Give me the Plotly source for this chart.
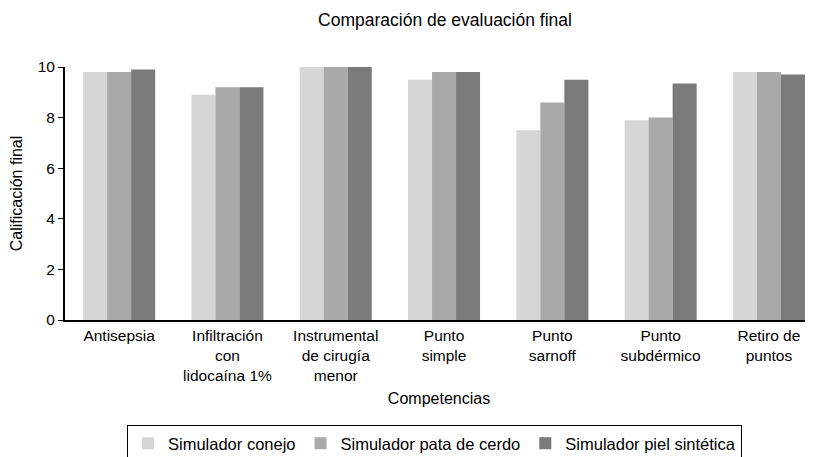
import plotly.graph_objects as go

categories = ["Antisepsia", "Infiltración<br>con<br>lidocaína 1%", "Instrumental<br>de cirugía<br>menor",
              "Punto<br>simple", "Punto<br>sarnoff", "Punto<br>subdérmico", "Retiro de<br>puntos"]
conejo = [9.8, 8.9, 10.0, 9.5, 7.5, 7.9, 9.8]
pata_cerdo = [9.8, 9.2, 10.0, 9.8, 8.6, 8.0, 9.8]
piel_sintetica = [9.9, 9.2, 10.0, 9.8, 9.5, 9.35, 9.7]
series_names = ["Simulador conejo", "Simulador pata de cerdo", "Simulador piel sintética"]
colors = ["#d6d6d6", "#a9a9a9", "#7a7a7a"]
y_ticks = [0, 2, 4, 6, 8, 10]

font = "Liberation Sans, Arial, sans-serif"
fig = go.Figure()
for name, vals, c in zip(series_names, [conejo, pata_cerdo, piel_sintetica], colors):
    fig.add_trace(go.Bar(x=list(range(len(categories))), y=vals, name=name,
                         marker=dict(color=c, line=dict(width=0))))

fig.update_layout(
    width=813, height=457,
    margin=dict(l=57, r=8, t=59, b=145, autoexpand=False),
    paper_bgcolor="white", plot_bgcolor="white",
    barmode="group", bargap=0.335, bargroupgap=0,
    font=dict(family=font, size=15.5, color="black"),
    title=dict(text="Comparación de evaluación final", x=0.5375, xanchor="center",
               y=0.974, yanchor="middle", font=dict(size=17.5)),
    xaxis=dict(tickmode="array", tickvals=list(range(len(categories))), ticktext=categories,
               range=[-0.5, 6.407], showline=True, linecolor="black", linewidth=2,
               ticks="", showgrid=False, zeroline=False,
               title=dict(text="Competencias", font=dict(size=16), standoff=10),
               tickfont=dict(size=15.5)),
    yaxis=dict(range=[0, 10], tickvals=y_ticks, showline=True, linecolor="black", linewidth=2,
               ticks="outside", ticklen=5, tickcolor="black", showgrid=False, zeroline=False,
               title=dict(text="Calificación final", font=dict(size=16), standoff=12),
               tickfont=dict(size=15.5)),
    legend=dict(orientation="h", x=0.494, xanchor="center", y=-0.415, yanchor="top",
                bordercolor="black", borderwidth=1, font=dict(size=16.5),
                traceorder="normal", itemwidth=30),
)
fig.write_html("out.html")
